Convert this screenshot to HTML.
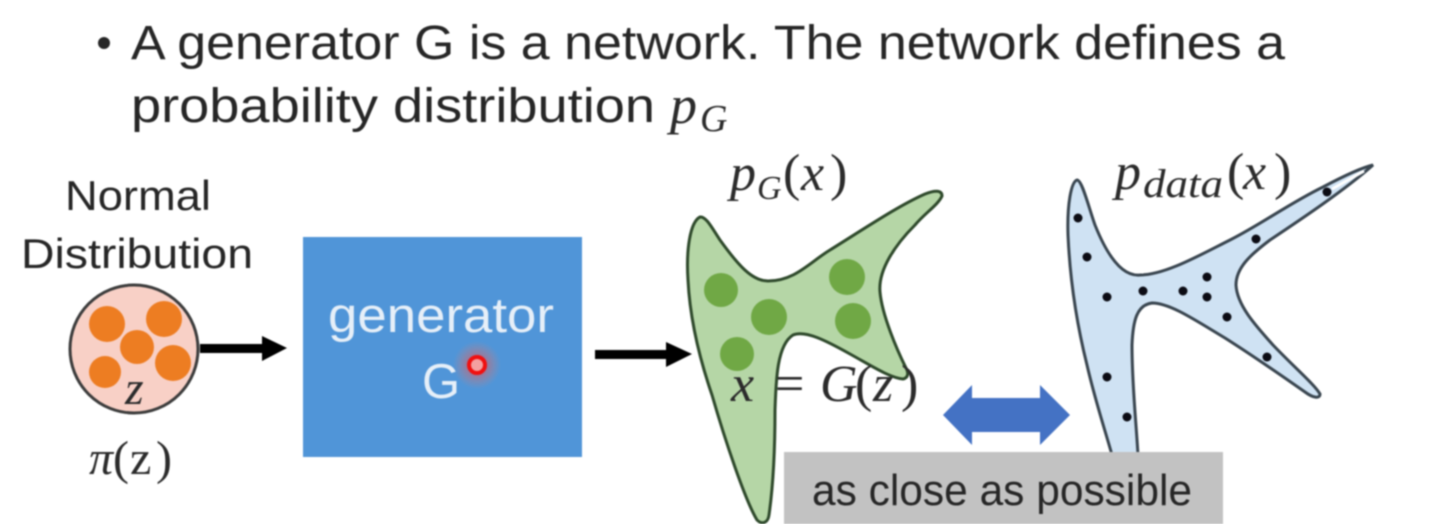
<!DOCTYPE html>
<html lang="en">
<head>
<meta charset="utf-8">
<title>Generator probability distribution slide</title>
<style>
html,body{margin:0;padding:0;background:#fff;width:1440px;height:524px;overflow:hidden}
svg{display:block;filter:blur(0.7px)}
.s{font-family:"Liberation Sans",sans-serif;fill:#262626}
.m{font-family:"Liberation Serif",serif;fill:#2b2b2b}
.i{font-style:italic}
</style>
</head>
<body>
<svg width="1440" height="524" viewBox="0 0 1440 524" xmlns="http://www.w3.org/2000/svg">
<defs>
<radialGradient id="glow"><stop offset="0" stop-color="#ff3030" stop-opacity=".7"/><stop offset="1" stop-color="#ff8060" stop-opacity="0"/></radialGradient>
</defs>
<rect width="1440" height="524" fill="#fff"/>

<circle cx="104" cy="43" r="6" fill="#262626"/>
<text class="s" x="131" y="59" font-size="48" textLength="1154" lengthAdjust="spacingAndGlyphs">A generator G is a network. The network defines a</text>
<text class="s" x="131" y="122" font-size="48" textLength="524" lengthAdjust="spacingAndGlyphs">probability distribution</text>
<text class="m i" y="123" font-size="54"><tspan x="670">p</tspan><tspan x="700" font-size="38" dy="8">G</tspan></text>

<text class="s" x="138" y="210" font-size="42" text-anchor="middle" textLength="146" lengthAdjust="spacingAndGlyphs">Normal</text>
<text class="s" x="137" y="268" font-size="42" text-anchor="middle" textLength="232" lengthAdjust="spacingAndGlyphs">Distribution</text>

<g>
<circle cx="134" cy="349" r="64" fill="#f8d0c6" stroke="#3c3c3c" stroke-width="3"/>
<circle cx="107" cy="324" r="18" fill="#ed7d22"/>
<circle cx="164" cy="319" r="18" fill="#ed7d22"/>
<circle cx="137" cy="347" r="17" fill="#ed7d22"/>
<circle cx="173" cy="363" r="18" fill="#ed7d22"/>
<circle cx="105" cy="372" r="16" fill="#ed7d22"/>
<text class="m i" x="125" y="404" font-size="48">z</text>
</g>
<text class="m" y="474" font-size="48"><tspan class="i" x="89">π</tspan><tspan x="113">(</tspan><tspan x="130">z</tspan><tspan x="156">)</tspan></text>

<g>
<rect x="200" y="344" width="66" height="9" fill="#000"/>
<polygon points="262,336 287,348 262,361" fill="#000"/>
</g>

<rect x="303" y="237" width="279" height="220" fill="#5095d8"/>
<text x="441" y="332" font-family="'Liberation Sans',sans-serif" font-size="49" fill="#e6eff8" text-anchor="middle" textLength="226" lengthAdjust="spacingAndGlyphs">generator</text>
<text x="441" y="398" font-family="'Liberation Sans',sans-serif" font-size="49" fill="#e6eff8" text-anchor="middle">G</text>
<g>
<circle cx="477" cy="365" r="24" fill="url(#glow)"/>
<circle cx="477" cy="365" r="8" fill="#f4a0a0" stroke="#f01010" stroke-width="4"/>
</g>

<g>
<rect x="595" y="350" width="72" height="9" fill="#000"/>
<polygon points="666,342 692,354 666,367" fill="#000"/>
</g>

<text class="m" y="190" font-size="52"><tspan class="i" x="730">p</tspan><tspan class="i" x="757" font-size="34" dy="9">G</tspan><tspan x="783" dy="-9">(</tspan><tspan class="i" x="801">x</tspan><tspan x="830">)</tspan></text>

<g>
<path d="M700 217 C690 222 686 250 688 280 C690 320 700 360 712 395 C725 440 745 500 757 520 C762 525 768 523 769 515 C774 480 775 440 775 410 C776 380 777 345 793 335 C805 330 825 340 850 354 C870 365 890 378 903 379 C908 378 909 373 906 368 C897 350 882 315 880 292 C878 270 895 245 915 225 C925 213 938 205 942 196 C942 190 935 190 925 194 C900 205 870 225 830 250 C810 262 795 281 768 281 C752 281 738 265 720 240 C712 228 706 216 700 217 Z" fill="#b5d6a6" stroke="#2f4a2c" stroke-width="3"/>
<circle cx="721" cy="290" r="17" fill="#70a845"/>
<circle cx="769" cy="317" r="18" fill="#70a845"/>
<circle cx="737" cy="354" r="17" fill="#70a845"/>
<circle cx="847" cy="277" r="18" fill="#70a845"/>
<circle cx="853" cy="321" r="18" fill="#70a845"/>
</g>

<text class="m" y="401" font-size="52"><tspan class="i" x="731">x</tspan><tspan x="775">=</tspan><tspan class="i" x="820">G</tspan><tspan x="855">(</tspan><tspan class="i" x="873">z</tspan><tspan x="901">)</tspan></text>

<polygon points="943,415 972,385 972,398 1040,398 1040,385 1070,415 1040,445 1040,432 972,432 972,445" fill="#4472c4"/>

<text class="m" y="189" font-size="52"><tspan class="i" x="1115">p</tspan><tspan class="i" x="1143" font-size="40" dy="8" textLength="80" lengthAdjust="spacingAndGlyphs">data</tspan><tspan x="1227" dy="-8">(</tspan><tspan class="i" x="1243">x</tspan><tspan x="1274">)</tspan></text>

<g>
<path d="M1077 180 C1071 182 1067 205 1068 235 C1070 280 1077 325 1087 365 C1095 400 1105 430 1112 455 L1138 455 C1136 420 1132 385 1132 345 C1133 320 1137 305 1152 303 C1170 303 1195 320 1225 338 C1255 357 1285 378 1305 392 C1313 398 1320 399 1320 394 C1315 385 1295 368 1273 345 C1255 325 1237 305 1236 285 C1236 268 1250 255 1270 240 C1300 220 1345 190 1373 165 C1360 168 1340 178 1323 187 C1290 203 1260 225 1230 240 C1200 255 1165 275 1140 275 C1120 277 1105 250 1095 225 C1088 205 1082 180 1077 180 Z" fill="#cfe2f3" stroke="#3a4650" stroke-width="3"/>
<line x1="1332" y1="189" x2="1364" y2="171" stroke="#fff" stroke-width="3"/>
<g fill="#0c0c14">
<circle cx="1078" cy="218" r="4.5"/>
<circle cx="1087" cy="257" r="4.5"/>
<circle cx="1107" cy="297" r="4.5"/>
<circle cx="1143" cy="291" r="4.5"/>
<circle cx="1183" cy="291" r="4.5"/>
<circle cx="1207" cy="277" r="4.5"/>
<circle cx="1207" cy="297" r="4.5"/>
<circle cx="1227" cy="317" r="4.5"/>
<circle cx="1267" cy="357" r="4.5"/>
<circle cx="1107" cy="377" r="4.5"/>
<circle cx="1127" cy="417" r="4.5"/>
<circle cx="1327" cy="192" r="4.5"/>
<circle cx="1256" cy="239" r="4.5"/>
</g>
</g>

<rect x="784" y="452" width="439" height="72" fill="#c2c2c2"/>
<text class="s" x="812" y="505" font-size="44" textLength="380" lengthAdjust="spacingAndGlyphs" fill="#222">as close as possible</text>
</svg>
</body>
</html>
